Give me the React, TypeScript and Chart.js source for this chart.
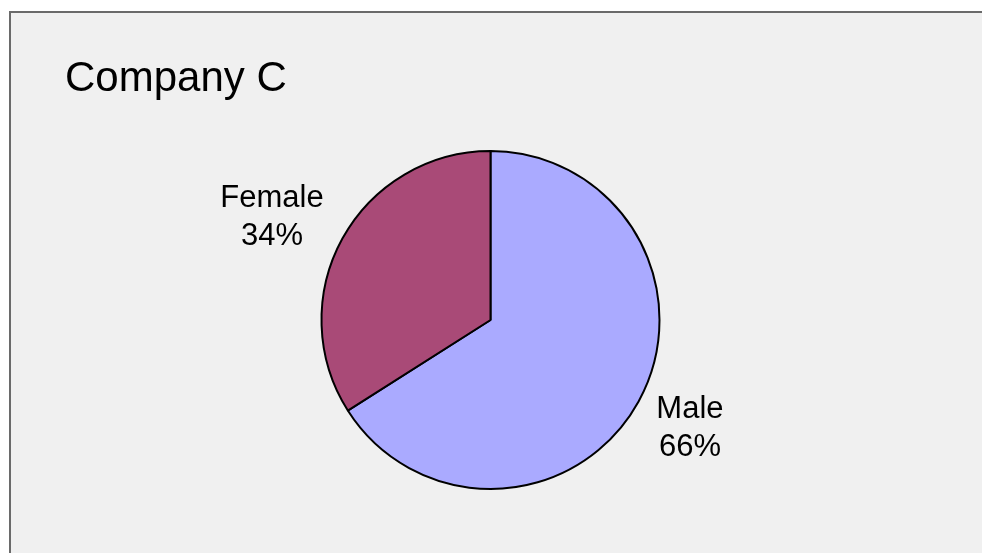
import React, { useEffect, useRef } from "react";
import { Chart, registerables } from "chart.js";

Chart.register(...registerables);

const titleText = "Company C";
const categories = ["Male", "Female"];
const values = [66, 34];
const sliceColors = ["#AAAAFF", "#A94A77"];

// label placement: radial distance (in radii) and angle tweak (degrees) per slice
const labelPlacement = [
  { dist: 1.334, dAngle: -1.0 },
  { dist: 1.437, dAngle: -2.9 },
];

const backgroundPlugin = {
  id: "bgBox",
  beforeDraw(chart: any) {
    const { ctx, width, height } = chart;
    ctx.save();
    ctx.fillStyle = "#ffffff";
    ctx.fillRect(0, 0, width, height);
    ctx.fillStyle = "#F0F0F0";
    ctx.fillRect(10, 12, width, height);
    ctx.strokeStyle = "#6a6a6a";
    ctx.lineWidth = 2;
    ctx.strokeRect(10, 12, width + 10, height + 10);
    ctx.fillStyle = "#000000";
    ctx.font = '42px "Liberation Sans", Arial, sans-serif';
    ctx.textAlign = "left";
    ctx.textBaseline = "alphabetic";
    ctx.fillText(titleText, 65, 91);
    ctx.restore();
  },
};

const labelPlugin = {
  id: "sliceLabels",
  afterDatasetsDraw(chart: any) {
    const { ctx } = chart;
    const meta = chart.getDatasetMeta(0);
    const total = values.reduce((a, b) => a + b, 0);
    ctx.save();
    ctx.fillStyle = "#000000";
    ctx.font = '31px "Liberation Sans", Arial, sans-serif';
    ctx.textAlign = "center";
    ctx.textBaseline = "alphabetic";
    meta.data.forEach((arc: any, i: number) => {
      const { x, y, startAngle, endAngle, outerRadius } = arc.getProps(
        ["x", "y", "startAngle", "endAngle", "outerRadius"],
        true
      );
      const p = labelPlacement[i];
      const mid = (startAngle + endAngle) / 2 + (p.dAngle * Math.PI) / 180;
      const cx = x + Math.cos(mid) * outerRadius * p.dist;
      const cy = y + Math.sin(mid) * outerRadius * p.dist;
      const pct = Math.round((values[i] / total) * 100) + "%";
      ctx.fillText(categories[i], cx, cy - 7);
      ctx.fillText(pct, cx, cy + 31);
    });
    ctx.restore();
  },
};

export default function App() {
  const ref = useRef<HTMLCanvasElement | null>(null);
  useEffect(() => {
    document.body.style.margin = "0";
    const canvas = ref.current;
    if (!canvas) return;
    const chart = new Chart(canvas, {
      type: "pie",
      data: {
        labels: categories,
        datasets: [
          {
            data: values,
            backgroundColor: sliceColors,
            borderColor: "#000000",
            borderWidth: 2,
          },
        ],
      },
      options: {
        animation: false,
        responsive: true,
        maintainAspectRatio: false,
        layout: { padding: { top: 150, bottom: 63, left: 0, right: 1 } },
        plugins: {
          legend: { display: false },
          tooltip: { enabled: false },
          title: { display: false },
        },
      },
      plugins: [backgroundPlugin, labelPlugin],
    });
    return () => chart.destroy();
  }, []);
  return (
    <div style={{ position: "absolute", left: 0, top: 0, width: 982, height: 553 }}>
      <canvas ref={ref} />
    </div>
  );
}
